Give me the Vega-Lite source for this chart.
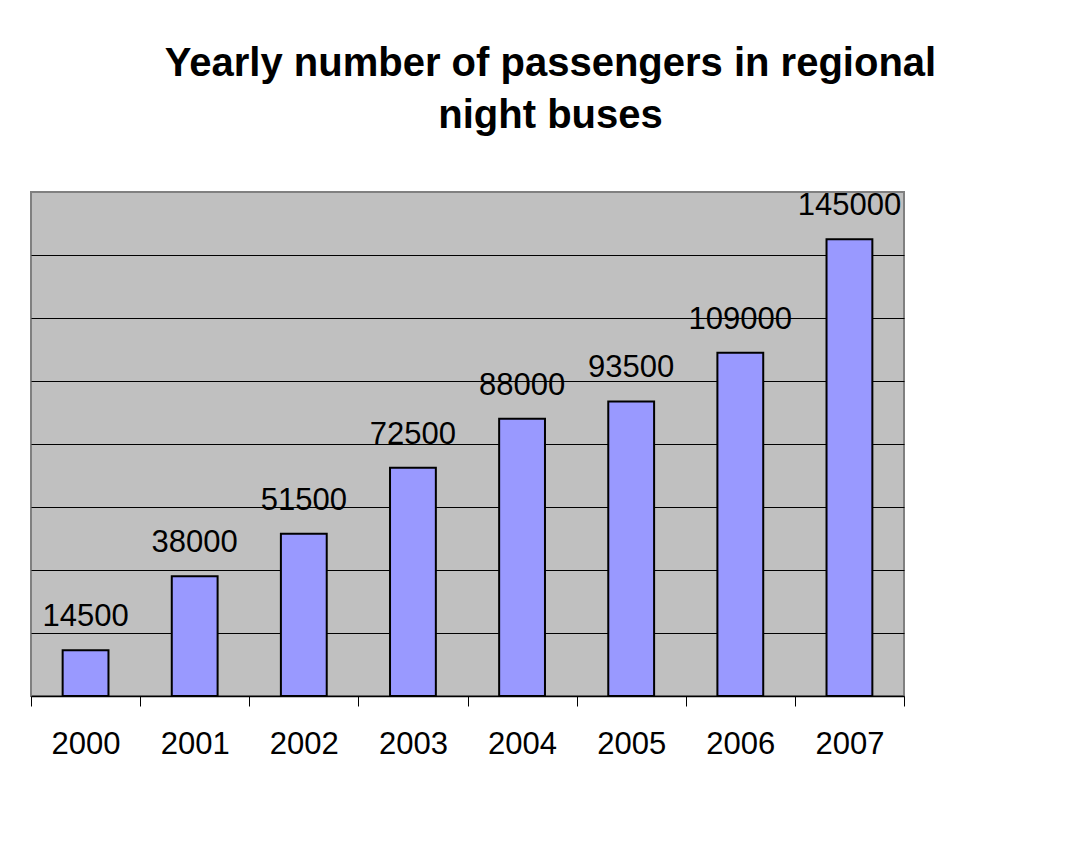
{
  "$schema": "https://vega.github.io/schema/vega-lite/v6.json",
  "autosize": "none",
  "width": 873,
  "height": 504,
  "padding": {"left": 31, "top": 192, "right": 173, "bottom": 156},
  "background": "white",
  "title": {
    "text": ["Yearly number of passengers in regional", "night buses"],
    "font": "Liberation Sans",
    "fontSize": 40,
    "fontWeight": "bold",
    "color": "black",
    "lineHeight": 52,
    "anchor": "middle",
    "frame": "group",
    "dx": 83,
    "offset": 54
  },
  "config": {
    "view": {"fill": "#C0C0C0", "stroke": "#808080", "strokeWidth": 2}
  },
  "data": {
    "values": [
      {"year": "2000", "passengers": 14500},
      {"year": "2001", "passengers": 38000},
      {"year": "2002", "passengers": 51500},
      {"year": "2003", "passengers": 72500},
      {"year": "2004", "passengers": 88000},
      {"year": "2005", "passengers": 93500},
      {"year": "2006", "passengers": 109000},
      {"year": "2007", "passengers": 145000}
    ]
  },
  "encoding": {
    "x": {
      "field": "year",
      "type": "ordinal",
      "scale": {"paddingInner": 0, "paddingOuter": 0},
      "axis": {
        "title": null,
        "labelAngle": 0,
        "labelFont": "Liberation Sans",
        "labelFontSize": 31,
        "labelColor": "black",
        "labelPadding": 23,
        "tickSize": 10,
        "tickColor": "black",
        "tickBand": "extent",
        "domainColor": "black",
        "domainWidth": 1.5,
        "grid": false
      }
    },
    "y": {
      "field": "passengers",
      "type": "quantitative",
      "scale": {"domain": [0, 160000], "nice": false},
      "axis": {
        "title": null,
        "labels": false,
        "ticks": false,
        "domain": false,
        "grid": true,
        "gridColor": "black",
        "gridOpacity": 1,
        "gridWidth": 1,
        "values": [20000, 40000, 60000, 80000, 100000, 120000, 140000]
      }
    }
  },
  "layer": [
    {
      "mark": {"type": "bar", "fill": "#9999FF", "stroke": "black", "strokeWidth": 2, "width": {"band": 0.42}}
    },
    {
      "mark": {
        "type": "text",
        "baseline": "alphabetic",
        "align": "center",
        "dy": -24,
        "font": "Liberation Sans",
        "fontSize": 31,
        "color": "black"
      },
      "encoding": {"text": {"field": "passengers", "type": "quantitative", "format": "d"}}
    }
  ]
}
